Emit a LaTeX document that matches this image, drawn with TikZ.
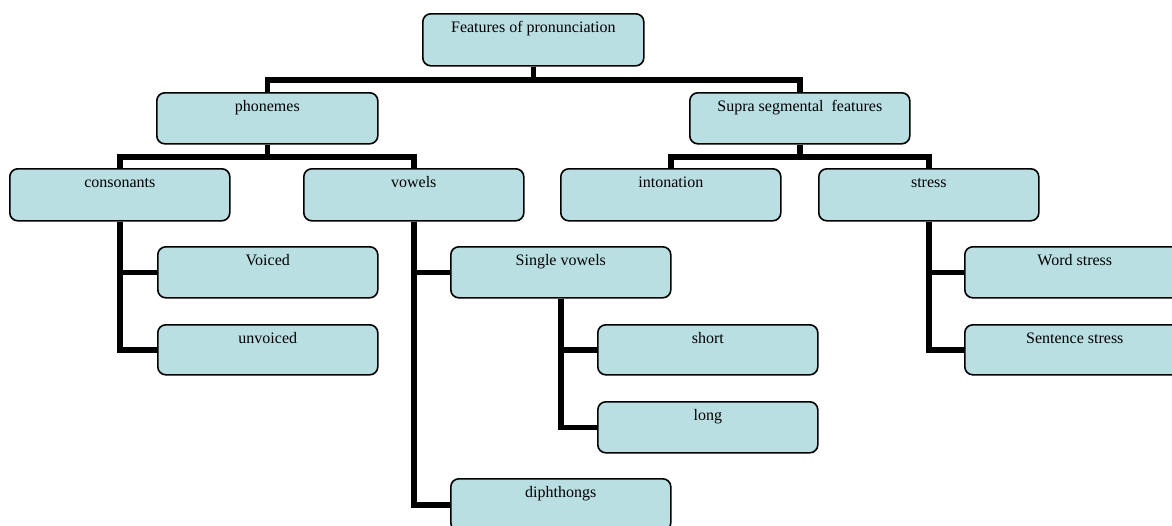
\documentclass[tikz,border=0pt]{standalone}
\usepackage{fontspec}
\setmainfont{Liberation Serif}
\definecolor{boxfill}{RGB}{185,223,226}
\begin{document}
\begin{tikzpicture}[x=1pt,y=-1pt,
  box/.style={draw=black, line width=1.6pt, fill=boxfill, rounded corners=8pt, anchor=north west, inner sep=0pt, minimum height=#1},
  box/.default=51pt,
  lbl/.style={anchor=base, font=\fontsize{16}{19}\selectfont, inner sep=0pt},
  conn/.style={draw=black, line width=5.5pt, line join=miter}]
\useasboundingbox (0,0) rectangle (1172,525);
% boxes
\node[box=52pt, minimum width=221pt] (f) at (422,13) {};
\node[box, minimum width=221pt] (ph) at (156,92) {};
\node[box, minimum width=220pt] (su) at (689,92) {};
\node[box=52pt, minimum width=220pt] (co) at (9,168) {};
\node[box=52pt, minimum width=220pt] (vo) at (303,168) {};
\node[box=52pt, minimum width=220pt] (in) at (560,168) {};
\node[box=52pt, minimum width=220pt] (st) at (818,168) {};
\node[box, minimum width=220pt] (vd) at (157,246) {};
\node[box=50pt, minimum width=220pt] (uv) at (157,324) {};
\node[box, minimum width=220pt] (sv) at (450,246) {};
\node[box=50pt, minimum width=220pt] (sh) at (597,324) {};
\node[box, minimum width=220pt] (lo) at (597,401) {};
\node[box=52pt, minimum width=220pt] (di) at (450,478) {};
\node[box, minimum width=220pt] (ws) at (964,246) {};
\node[box=50pt, minimum width=220pt] (ss) at (964,324) {};
% connectors
\draw[conn] (f.south) -- ++(0,13.5) -| (ph.north);
\draw[conn] (f.south) -- ++(0,13.5) -| (su.north);
\draw[conn] (ph.south) -- ++(0,12.5) -| (co.north);
\draw[conn] (ph.south) -- ++(0,12.5) -| (vo.north);
\draw[conn] (su.south) -- ++(0,12.5) -| (in.north);
\draw[conn] (su.south) -- ++(0,12.5) -| (st.north);
\draw[conn] (co.south) |- (vd.west);
\draw[conn] (co.south) |- (uv.west);
\draw[conn] (vo.south) |- (sv.west);
\draw[conn] (vo.south) |- (di.west);
\draw[conn] (sv.south) |- (sh.west);
\draw[conn] (sv.south) |- (lo.west);
\draw[conn] (st.south) |- (ws.west);
\draw[conn] (st.south) |- (ss.west);
% labels
\node[lbl] (ft) at ([yshift=-19pt]f.north) {Features of pronunciation};
\node[lbl] (pht) at ([yshift=-19pt]ph.north) {phonemes};
\node[lbl] (sut) at ([yshift=-19pt]su.north) {Supra segmental \ features};
\node[lbl] (cot) at ([yshift=-19pt]co.north) {consonants};
\node[lbl] (vot) at ([yshift=-19pt]vo.north) {vowels};
\node[lbl] (int) at ([yshift=-19pt]in.north) {intonation};
\node[lbl] (stt) at ([yshift=-19pt]st.north) {stress};
\node[lbl] (vdt) at ([yshift=-19pt]vd.north) {Voiced};
\node[lbl] (uvt) at ([yshift=-19pt]uv.north) {unvoiced};
\node[lbl] (svt) at ([yshift=-19pt]sv.north) {Single vowels};
\node[lbl] (sht) at ([yshift=-19pt]sh.north) {short};
\node[lbl] (lot) at ([yshift=-19pt]lo.north) {long};
\node[lbl] (dit) at ([yshift=-19pt]di.north) {diphthongs};
\node[lbl] (wst) at ([yshift=-19pt]ws.north) {Word stress};
\node[lbl] (sst) at ([yshift=-19pt]ss.north) {Sentence stress};
\end{tikzpicture}
\end{document}
